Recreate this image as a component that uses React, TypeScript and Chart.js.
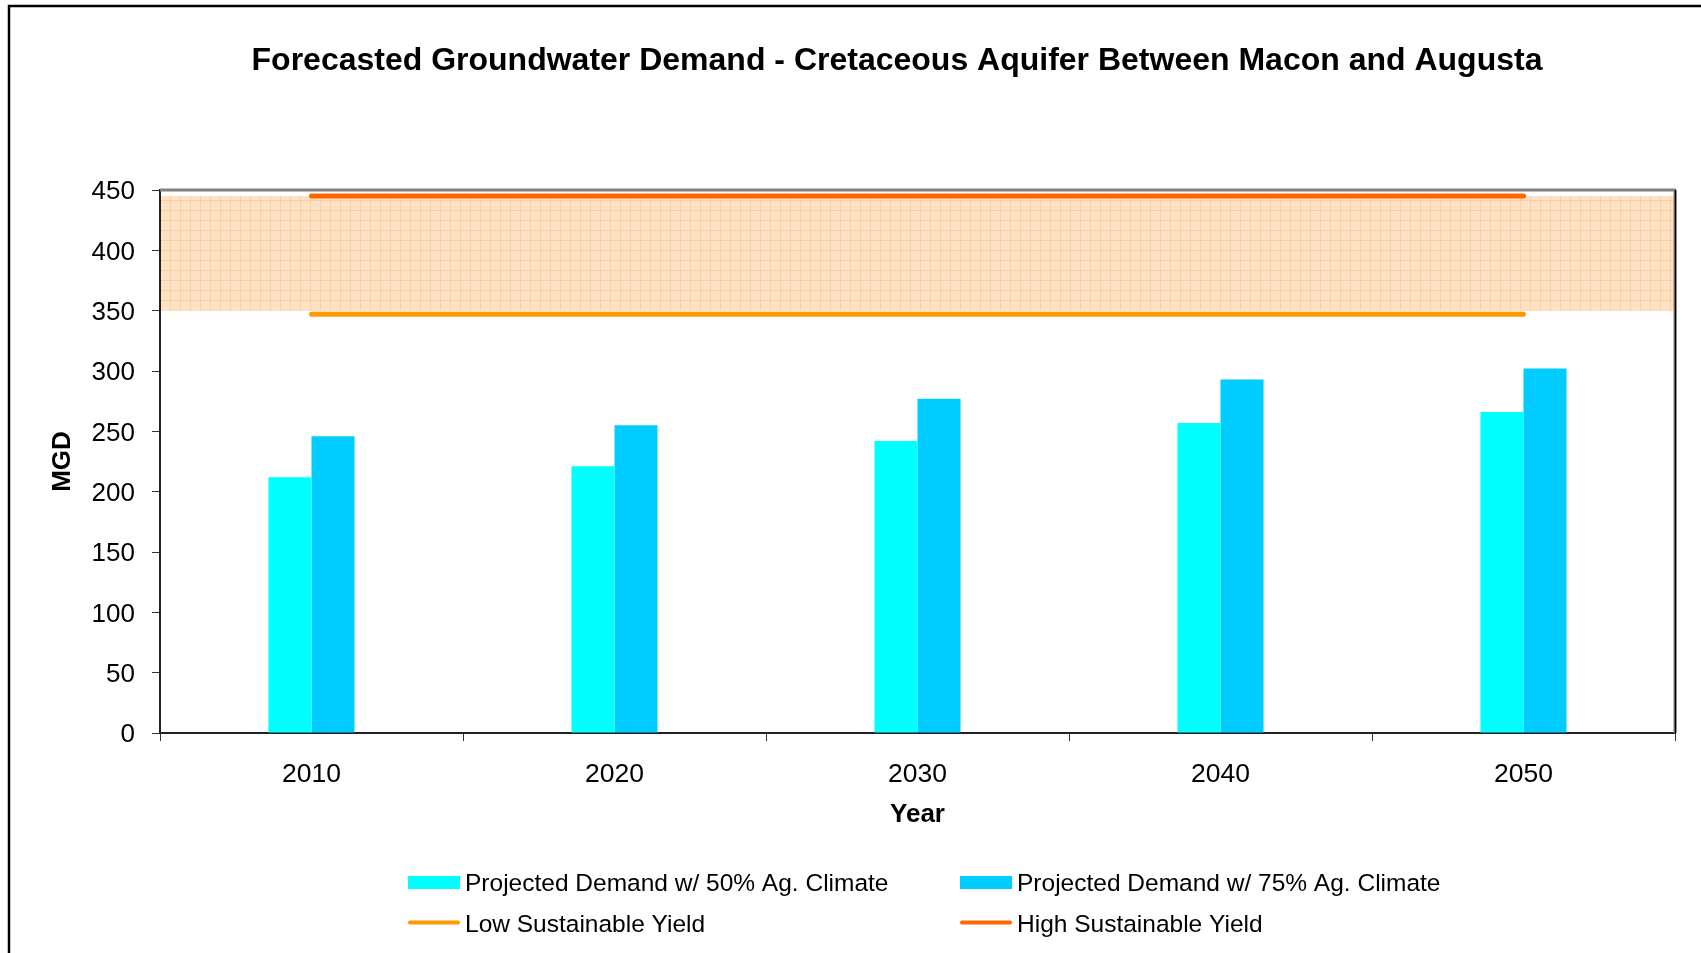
import React, { useEffect, useRef } from 'react';
import { Chart, registerables } from 'chart.js';

Chart.register(...registerables);

// ---------- data ----------
const years = ['2010', '2020', '2030', '2040', '2050'];
const demand50 = [212, 221, 242, 257, 266];
const demand75 = [246, 255, 277, 293, 302];
const lowYield = [347, 347, 347, 347, 347];
const highYield = [445, 445, 445, 445, 445];
const yieldBand = [350, 445];
const yMin = 0;
const yMax = 450;
const yStep = 50;

const chartTitle = 'Forecasted Groundwater Demand - Cretaceous Aquifer Between Macon and Augusta';
const xTitle = 'Year';
const yTitle = 'MGD';
const seriesLabels = [
  'Projected Demand w/ 50% Ag. Climate',
  'Projected Demand w/ 75% Ag. Climate',
  'Low Sustainable Yield',
  'High Sustainable Yield',
];

const FONT = '"Liberation Sans", Arial, Helvetica, sans-serif';
const W = 1701;
const H = 953;

function makePattern(ctx: CanvasRenderingContext2D) {
  const c = document.createElement('canvas');
  c.width = 10;
  c.height = 10;
  const p = c.getContext('2d')!;
  p.fillStyle = '#FFE5CB';
  p.fillRect(0, 0, 10, 10);
  p.fillStyle = '#FFDDBD';
  for (let i = 0; i < 10; i++) {
    for (let j = 0; j < 10; j++) {
      if ((i + j) % 2 === 0) p.fillRect(i, j, 1, 1);
    }
  }
  p.fillStyle = '#FFCE9E';
  p.fillRect(0, 0, 10, 1);
  p.fillRect(0, 0, 1, 10);
  return ctx.createPattern(c, 'repeat');
}

const decorPlugin = {
  id: 'decor',
  beforeDraw(chart: any) {
    const { ctx, chartArea, scales } = chart;
    ctx.save();
    ctx.fillStyle = '#ffffff';
    ctx.fillRect(0, 0, chart.width, chart.height);
    // outer frame
    ctx.strokeStyle = '#000000';
    ctx.lineWidth = 2.5;
    ctx.strokeRect(9, 6, 3000, 3000);
    // sustainable yield band
    const yTop = scales.y.getPixelForValue(yieldBand[1]);
    const yBot = scales.y.getPixelForValue(yieldBand[0]);
    ctx.fillStyle = makePattern(ctx) || '#FFE5CB';
    ctx.fillRect(chartArea.left, yTop, chartArea.right - chartArea.left, yBot - yTop);
    ctx.restore();
  },
  afterDraw(chart: any) {
    const { ctx, chartArea } = chart;
    ctx.save();
    // plot area border top / right
    ctx.strokeStyle = '#808080';
    ctx.lineWidth = 3;
    ctx.beginPath();
    ctx.moveTo(chartArea.left, chartArea.top);
    ctx.lineTo(chartArea.right + 1, chartArea.top);
    ctx.stroke();
    ctx.beginPath();
    ctx.moveTo(chartArea.right, chartArea.top);
    ctx.lineTo(chartArea.right, chartArea.bottom);
    ctx.stroke();
    ctx.strokeStyle = '#000000';
    ctx.lineWidth = 1.5;
    ctx.beginPath();
    ctx.moveTo(chartArea.right + 0.5, chartArea.top);
    ctx.lineTo(chartArea.right + 0.5, chartArea.bottom);
    ctx.stroke();

    // title
    ctx.fillStyle = '#000000';
    ctx.font = `bold 32px ${FONT}`;
    ctx.textAlign = 'center';
    ctx.textBaseline = 'alphabetic';
    ctx.fillText(chartTitle, 897, 70);

    // legend (2 columns x 2 rows)
    const ds = chart.data.datasets;
    const colX = [408, 960];
    const rowBase = [890.5, 931.5];
    ctx.font = `24.5px ${FONT}`;
    ctx.textAlign = 'left';
    ds.forEach((d: any, i: number) => {
      const cx = colX[i % 2];
      const by = rowBase[Math.floor(i / 2)];
      if (d.type === 'line') {
        ctx.strokeStyle = d.borderColor;
        ctx.lineWidth = 4;
        ctx.lineCap = 'round';
        ctx.beginPath();
        ctx.moveTo(cx + 2, by - 9);
        ctx.lineTo(cx + 50, by - 9);
        ctx.stroke();
      } else {
        ctx.fillStyle = d.backgroundColor;
        ctx.fillRect(cx, by - 14.5, 52, 13);
      }
      ctx.fillStyle = '#000000';
      ctx.fillText(d.label, cx + 57, by);
    });
    ctx.restore();
  },
};

export default function App() {
  const ref = useRef<HTMLCanvasElement | null>(null);

  useEffect(() => {
    if (!ref.current) return;
    const chart = new Chart(ref.current, {
      type: 'bar',
      data: {
        labels: years,
        datasets: [
          {
            type: 'bar',
            label: seriesLabels[0],
            data: demand50,
            backgroundColor: '#00FFFF',
            borderWidth: 0,
            categoryPercentage: 0.284,
            barPercentage: 1,
          },
          {
            type: 'bar',
            label: seriesLabels[1],
            data: demand75,
            backgroundColor: '#00CCFF',
            borderWidth: 0,
            categoryPercentage: 0.284,
            barPercentage: 1,
          },
          {
            type: 'line',
            label: seriesLabels[2],
            data: lowYield,
            borderColor: '#FF9900',
            backgroundColor: '#FF9900',
            borderWidth: 5,
            borderCapStyle: 'round',
            pointRadius: 0,
            fill: false,
          },
          {
            type: 'line',
            label: seriesLabels[3],
            data: highYield,
            borderColor: '#FF6600',
            backgroundColor: '#FF6600',
            borderWidth: 5,
            borderCapStyle: 'round',
            pointRadius: 0,
            fill: false,
          },
        ] as any,
      },
      options: {
        responsive: false,
        animation: false,
        devicePixelRatio: 1,
        layout: { padding: { left: 20, right: 26, top: 190, bottom: 120 } },
        plugins: {
          legend: { display: false },
          title: { display: false },
          tooltip: { enabled: false },
        },
        scales: {
          x: {
            offset: true,
            grid: { display: true, drawOnChartArea: false, drawTicks: true, tickLength: 8, color: '#333333', lineWidth: 1 },
            border: { display: true, color: '#222222', width: 2 },
            ticks: { color: '#000000', padding: 18, font: { family: FONT, size: 26.5 } },
            title: {
              display: true,
              text: xTitle,
              color: '#000000',
              font: { family: FONT, size: 26, weight: 'bold' },
              padding: { top: 0, bottom: 3 },
            },
            afterFit: (s: any) => { s.height = 100; },
          },
          y: {
            min: yMin,
            max: yMax,
            grid: { display: true, drawOnChartArea: false, drawTicks: true, tickLength: 8, color: '#333333', lineWidth: 1 },
            border: { display: true, color: '#222222', width: 2 },
            ticks: { stepSize: yStep, color: '#000000', padding: 17, labelOffset: 2, font: { family: FONT, size: 26 } },
            title: {
              display: true,
              text: yTitle,
              color: '#000000',
              font: { family: FONT, size: 26, weight: 'bold' },
              padding: { top: 27, bottom: 0 },
            },
            afterFit: (s: any) => { s.width = 140; },
          },
        },
      } as any,
      plugins: [decorPlugin],
    });
    return () => chart.destroy();
  }, []);

  return (
    <div style={{ position: 'absolute', left: 0, top: 0, width: W, height: H, background: '#fff' }}>
      <canvas ref={ref} width={W} height={H} style={{ display: 'block', width: W, height: H }} />
    </div>
  );
}
